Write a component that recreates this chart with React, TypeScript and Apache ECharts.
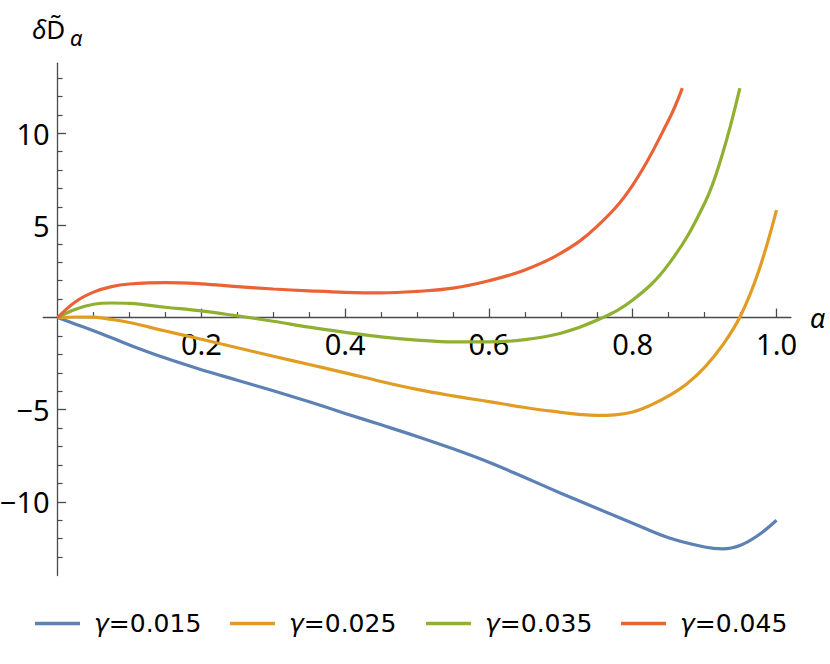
import React, { useEffect, useRef } from 'react';
import * as echarts from 'echarts';

// ---- data ----
const ALPHA_015 = [0, 0.025, 0.05, 0.075, 0.1, 0.15, 0.2, 0.25, 0.3, 0.35, 0.4, 0.45, 0.5, 0.55, 0.6, 0.65, 0.7, 0.75, 0.8, 0.85, 0.9, 0.925, 0.95, 0.975, 1.0];
const D_015 = [0, -0.36, -0.72, -1.1, -1.49, -2.2, -2.83, -3.4, -3.97, -4.57, -5.2, -5.82, -6.45, -7.12, -7.85, -8.68, -9.53, -10.35, -11.16, -11.95, -12.45, -12.55, -12.35, -11.8, -11.0];

const ALPHA_025 = [0, 0.025, 0.05, 0.075, 0.1, 0.15, 0.2, 0.25, 0.3, 0.35, 0.4, 0.45, 0.5, 0.55, 0.6, 0.65, 0.7, 0.725, 0.75, 0.775, 0.8, 0.825, 0.85, 0.875, 0.9, 0.925, 0.95, 0.975, 1.0];
const D_025 = [0, 0.03, 0.02, -0.1, -0.27, -0.73, -1.18, -1.64, -2.1, -2.55, -3.0, -3.47, -3.9, -4.25, -4.56, -4.88, -5.14, -5.25, -5.31, -5.28, -5.12, -4.75, -4.25, -3.6, -2.7, -1.5, 0.1, 2.5, 5.83];

const ALPHA_035 = [0, 0.025, 0.05, 0.075, 0.1, 0.15, 0.2, 0.25, 0.3, 0.35, 0.4, 0.45, 0.5, 0.55, 0.6, 0.65, 0.7, 0.75, 0.8, 0.85, 0.9, 0.925, 0.949];
const D_035 = [0, 0.45, 0.72, 0.79, 0.77, 0.56, 0.36, 0.09, -0.2, -0.52, -0.8, -1.05, -1.22, -1.32, -1.32, -1.2, -0.85, -0.15, 0.95, 2.9, 6.2, 8.9, 12.45];

const ALPHA_045 = [0, 0.025, 0.05, 0.075, 0.1, 0.15, 0.2, 0.25, 0.3, 0.35, 0.4, 0.45, 0.5, 0.55, 0.6, 0.65, 0.7, 0.75, 0.8, 0.85, 0.869];
const D_045 = [0, 0.86, 1.38, 1.68, 1.82, 1.9, 1.83, 1.68, 1.55, 1.45, 1.37, 1.34, 1.42, 1.6, 2.0, 2.58, 3.49, 4.93, 7.19, 10.72, 12.45];

const SERIES_NAMES = ['γ=0.015', 'γ=0.025', 'γ=0.035', 'γ=0.045'];
const COLORS = ['#5E81B5', '#E19C24', '#8FB032', '#EB6235'];

const X_MAJOR = [0.2, 0.4, 0.6, 0.8, 1.0];
const X_MINOR = [0.05, 0.1, 0.15, 0.25, 0.3, 0.35, 0.45, 0.5, 0.55, 0.65, 0.7, 0.75, 0.85, 0.9, 0.95];
const Y_MAJOR = [-10, -5, 5, 10];
const Y_MINOR = [-13, -12, -11, -9, -8, -7, -6, -4, -3, -2, -1, 1, 2, 3, 4, 6, 7, 8, 9, 11, 12, 13];

const X_RANGE = [-0.02, 1.02];
const Y_RANGE = [-14, 13.8];

const AXIS_COLOR = '#4a4a4a';
const TICK_FONT = '"Noto Sans", "Open Sans", sans-serif';

export default function App() {
  const ref = useRef<HTMLDivElement>(null);

  useEffect(() => {
    if (!ref.current) return;
    const chart = echarts.init(ref.current, null, { renderer: 'svg' });

    // grid geometry
    const W = 830, H = 664;
    const gLeft = 43.2, gRight = 39.1, gTop = 63.2, gBottom = 88.4;
    const gw = W - gLeft - gRight;
    const gh = H - gTop - gBottom;
    // axes cross at the origin: shift them inward from the grid edges
    const xAxisOffset = -gh * (0 - Y_RANGE[0]) / (Y_RANGE[1] - Y_RANGE[0]);
    const yAxisOffset = -gw * (0 - X_RANGE[0]) / (X_RANGE[1] - X_RANGE[0]);

    const xs = [ALPHA_015, ALPHA_025, ALPHA_035, ALPHA_045];
    const ys = [D_015, D_025, D_035, D_045];

    const series = SERIES_NAMES.map((name, i) => ({
      name,
      type: 'line',
      xAxisIndex: 0,
      yAxisIndex: 0,
      data: xs[i].map((a, k) => [a, ys[i][k]]),
      smooth: 0.4,
      showSymbol: false,
      symbol: 'none',
      lineStyle: { color: COLORS[i], width: 3.2 },
      itemStyle: { color: COLORS[i] },
      z: 3 + i,
    }));

    const legendLefts = [35, 230, 426, 621];
    const legends = SERIES_NAMES.map((name, i) => ({
      data: [name],
      left: legendLefts[i],
      top: 611,
      padding: 0,
      icon: 'rect',
      itemWidth: 45,
      itemHeight: 3.5,
      selectedMode: false,
      formatter: (n: string) => `{g|γ}{n|${n.slice(1)}}`,
      textStyle: {
        color: '#000',
        padding: [0, 0, 0, 9],
        fontFamily: '"DejaVu Sans", sans-serif',
        fontSize: 25,
        rich: {
          g: { fontStyle: 'italic', fontFamily: '"DejaVu Sans", sans-serif', fontSize: 25, color: '#000' },
          n: { fontFamily: '"DejaVu Sans", sans-serif', fontSize: 25, color: '#000' },
        },
      },
    }));

    const fmtY = (v: number) => (v < 0 ? '\u2212' + Math.abs(v) : String(v));

    const baseX = {
      type: 'value',
      min: X_RANGE[0],
      max: X_RANGE[1],
      position: 'bottom',
      offset: xAxisOffset,
      splitLine: { show: false },
      minorTick: { show: false },
    };
    const baseY = {
      type: 'value',
      min: Y_RANGE[0],
      max: Y_RANGE[1],
      position: 'left',
      offset: yAxisOffset,
      splitLine: { show: false },
      minorTick: { show: false },
    };

    chart.setOption({
      animation: false,
      backgroundColor: '#fff',
      grid: {
        left: gLeft,
        right: gRight,
        top: gTop,
        bottom: gBottom,
        containLabel: false,
        outerBoundsMode: 'none',
      },
      legend: legends,
      xAxis: [
        {
          ...baseX,
          axisLine: { show: true, onZero: false, lineStyle: { color: AXIS_COLOR, width: 1.3 } },
          axisTick: { show: true, inside: true, length: 9, customValues: X_MAJOR, lineStyle: { color: AXIS_COLOR, width: 1.3 } },
          axisLabel: {
            show: true,
            customValues: X_MAJOR,
            formatter: (v: number) => v.toFixed(1),
            color: '#000',
            fontSize: 29,
            fontFamily: TICK_FONT,
            margin: 11,
          },
          name: 'α',
          nameLocation: 'end',
          nameGap: 19,
          nameTextStyle: {
            fontStyle: 'italic',
            fontSize: 27,
            fontFamily: TICK_FONT,
            color: '#000',
            padding: [6, 0, 0, 0],
          },
        },
        {
          ...baseX,
          axisLine: { show: false, onZero: false },
          axisTick: { show: true, inside: true, length: 5.5, customValues: X_MINOR, lineStyle: { color: AXIS_COLOR, width: 1.2 } },
          axisLabel: { show: false },
        },
      ],
      yAxis: [
        {
          ...baseY,
          axisLine: { show: true, onZero: false, lineStyle: { color: AXIS_COLOR, width: 1.3 } },
          axisTick: { show: true, inside: true, length: 8.5, customValues: Y_MAJOR, lineStyle: { color: AXIS_COLOR, width: 1.3 } },
          axisLabel: {
            show: true,
            customValues: Y_MAJOR,
            formatter: fmtY,
            color: '#000',
            fontSize: 29,
            fontFamily: TICK_FONT,
            margin: 8,
          },
        },
        {
          ...baseY,
          axisLine: { show: false, onZero: false },
          axisTick: { show: true, inside: true, length: 5, customValues: Y_MINOR, lineStyle: { color: AXIS_COLOR, width: 1.2 } },
          axisLabel: { show: false },
        },
      ],
      graphic: [
        {
          type: 'text',
          left: 32,
          top: 16,
          style: {
            text: '{d|δ}{D|D\u0303}',
            rich: {
              d: { fontStyle: 'italic', fontSize: 26, fontFamily: TICK_FONT, fill: '#000' },
              D: { fontSize: 26, fontFamily: TICK_FONT, fill: '#000' },
            },
          },
        },
        {
          type: 'text',
          left: 70,
          top: 26,
          style: {
            text: 'α',
            fontStyle: 'italic',
            fontSize: 22,
            fontFamily: TICK_FONT,
            fill: '#000',
          },
        },
      ],
      series,
    });

    return () => chart.dispose();
  }, []);

  return <div ref={ref} style={{ position: 'absolute', left: 0, top: 0, width: 830, height: 664 }} />;
}
